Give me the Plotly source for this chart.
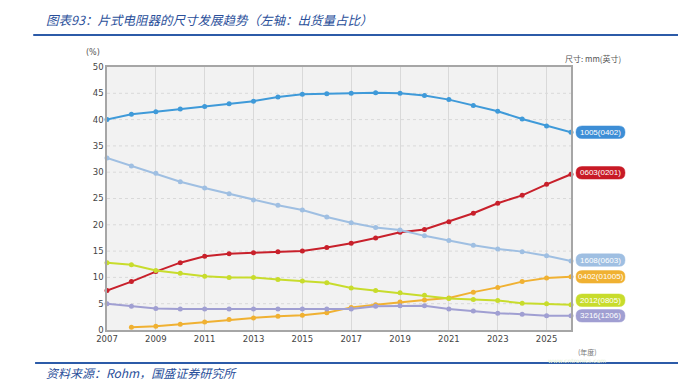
import plotly.graph_objects as go

years = list(range(2007, 2027))

s_1005 = [40.0, 41.0, 41.5, 42.0, 42.5, 43.0, 43.5, 44.3, 44.8, 44.9, 45.0, 45.1, 45.0, 44.6, 43.8, 42.7, 41.6, 40.1, 38.8, 37.6]
s_0603 = [7.5, 9.2, 11.1, 12.8, 14.0, 14.5, 14.7, 14.9, 15.0, 15.7, 16.5, 17.5, 18.6, 19.1, 20.6, 22.2, 24.1, 25.6, 27.7, 29.6]
s_1608 = [32.7, 31.2, 29.8, 28.2, 27.0, 25.9, 24.7, 23.7, 22.8, 21.5, 20.4, 19.5, 19.0, 17.9, 17.0, 16.1, 15.4, 14.9, 14.1, 13.1]
s_0402 = [None, 0.5, 0.7, 1.1, 1.5, 2.0, 2.3, 2.6, 2.8, 3.3, 4.3, 4.8, 5.3, 5.7, 6.1, 7.2, 8.1, 9.2, 9.9, 10.1]
s_2012 = [12.8, 12.4, 11.3, 10.8, 10.2, 10.0, 10.0, 9.6, 9.3, 9.0, 8.0, 7.5, 7.1, 6.6, 6.0, 5.8, 5.6, 5.1, 5.0, 4.8]
s_3216 = [5.0, 4.5, 4.1, 4.0, 4.0, 4.0, 4.0, 4.0, 4.0, 4.0, 4.0, 4.5, 4.6, 4.6, 4.0, 3.6, 3.2, 3.0, 2.7, 2.7]

names = ["1005(0402)", "0603(0201)", "1608(0603)", "0402(01005)", "2012(0805)", "3216(1206)"]
series = [s_1005, s_0603, s_1608, s_0402, s_2012, s_3216]

x_ticks = list(range(2007, 2026, 2))
y_ticks = list(range(0, 51, 5))

colors = ["#3f9ad9", "#c8202b", "#9fbfe2", "#f0b132", "#c8dc2c", "#a09fd2"]
label_colors = ["#3d8ed6", "#c81a26", "#9fbfe2", "#f0b132", "#c8dc2c", "#a09fd2"]
label_dy = [0, 1.5, 1, 0, 4.5, 0]  # pixel offsets for labels (style)

# the page body has an 8px margin; shrink the figure so it fits the window
PAGE_OFF = 8

fig = go.Figure()

for name, ys, c in zip(names, series, colors):
    fig.add_trace(go.Scatter(
        x=years, y=ys, name=name, mode="lines+markers",
        line=dict(color=c, width=2),
        marker=dict(color=c, size=5),
        connectgaps=False, showlegend=False, cliponaxis=False,
    ))

shapes = []
annotations = []

# pill labels at the end of each series
w, h, r = 49.0, 12.5, 6.0
x0, x1 = 5.0, 5.0 + w
for name, ys, c, dy in zip(names, series, label_colors, label_dy):
    yb, yt = dy - h / 2, dy + h / 2
    path = (f"M {x0 + r},{yb} L {x1 - r},{yb} Q {x1},{yb} {x1},{yb + r} "
            f"L {x1},{yt - r} Q {x1},{yt} {x1 - r},{yt} L {x0 + r},{yt} "
            f"Q {x0},{yt} {x0},{yt - r} L {x0},{yb + r} Q {x0},{yb} {x0 + r},{yb} Z")
    shapes.append(dict(type="path", xref="paper", yref="y", xsizemode="pixel", ysizemode="pixel",
                       xanchor=1, yanchor=ys[-1], path=path,
                       fillcolor=c, line=dict(color=c, width=0.5), layer="above"))
    annotations.append(dict(x=1, y=ys[-1], xref="paper", yref="y", text=name,
                            showarrow=False, xanchor="center", yanchor="middle",
                            xshift=(x0 + x1) / 2, yshift=dy,
                            font=dict(family="Liberation Sans", size=8, color="white")))

# horizontal dashed gridlines
for v in y_ticks[1:-1]:
    shapes.append(dict(type="line", xref="paper", yref="y", x0=0, x1=1, y0=v, y1=v,
                       line=dict(color="#d9d9d9", width=1, dash="dot"), layer="below"))

# title / footer lines
shapes.append(dict(type="line", xref="paper", yref="paper", x0=-0.159, x1=1.2306, y0=1.1217, y1=1.1217,
                   line=dict(color="#2c5ba8", width=2)))
shapes.append(dict(type="line", xref="paper", yref="paper", x0=-0.155, x1=1.2306, y0=-0.1255, y1=-0.1255,
                   line=dict(color="#2c5ba8", width=2)))

annotations += [
    dict(x=-0.136, y=1.1825, xref="paper", yref="paper", xanchor="left", yanchor="middle",
         text="<i>图表93：片式电阻器的尺寸发展趋势（左轴：出货量占比）</i>", showarrow=False,
         font=dict(family="Noto Sans CJK SC", size=12.5, color="#2a4f9a")),
    dict(x=-0.136, y=-0.160, xref="paper", yref="paper", xanchor="left", yanchor="middle",
         text="<i>资料来源：Rohm，国盛证券研究所</i>", showarrow=False,
         font=dict(family="Noto Sans CJK SC", size=12, color="#2a4f9a")),
    dict(x=-0.011, y=1.057, xref="paper", yref="paper", xanchor="right", yanchor="middle",
         text="(%)", showarrow=False, font=dict(family="DejaVu Sans", size=8, color="#555")),
    dict(x=1.112, y=1.034, xref="paper", yref="paper", xanchor="right", yanchor="middle",
         text="尺寸: mm(英寸)", showarrow=False, font=dict(family="Noto Sans CJK SC", size=8, color="#555")),
    dict(x=1.0345, y=-0.0837, xref="paper", yref="paper", xanchor="center", yanchor="middle",
         text="(年度)", showarrow=False, font=dict(family="Noto Sans CJK SC", size=7, color="#777")),
    dict(x=1.013, y=-0.116, xref="paper", yref="paper", xanchor="center", yanchor="middle",
         text="www.cntronics.com", showarrow=False, font=dict(family="DejaVu Sans", size=6, color="#e3efd6")),
]

fig.update_layout(
    width=691 - PAGE_OFF, height=386 - PAGE_OFF,
    margin=dict(l=107 - PAGE_OFF, r=120, t=67 - PAGE_OFF, b=56),
    paper_bgcolor="white", plot_bgcolor="#f2f2f2",
    shapes=shapes, annotations=annotations,
    xaxis=dict(range=[2007, 2026], tickvals=x_ticks, ticktext=[str(t) for t in x_ticks],
               showgrid=True, gridcolor="#d9d9d9", gridwidth=1, zeroline=False,
               showline=True, linecolor="#a6a6a6", linewidth=1.5, mirror=True,
               ticks="", tickfont=dict(family="DejaVu Sans", size=8.5, color="#444")),
    yaxis=dict(range=[0, 50], tickvals=y_ticks, showgrid=False, zeroline=False,
               showline=True, linecolor="#a6a6a6", linewidth=1.5, mirror=True,
               ticks="", tickfont=dict(family="DejaVu Sans", size=8.5, color="#444")),
)

fig.write_html("out.html")
